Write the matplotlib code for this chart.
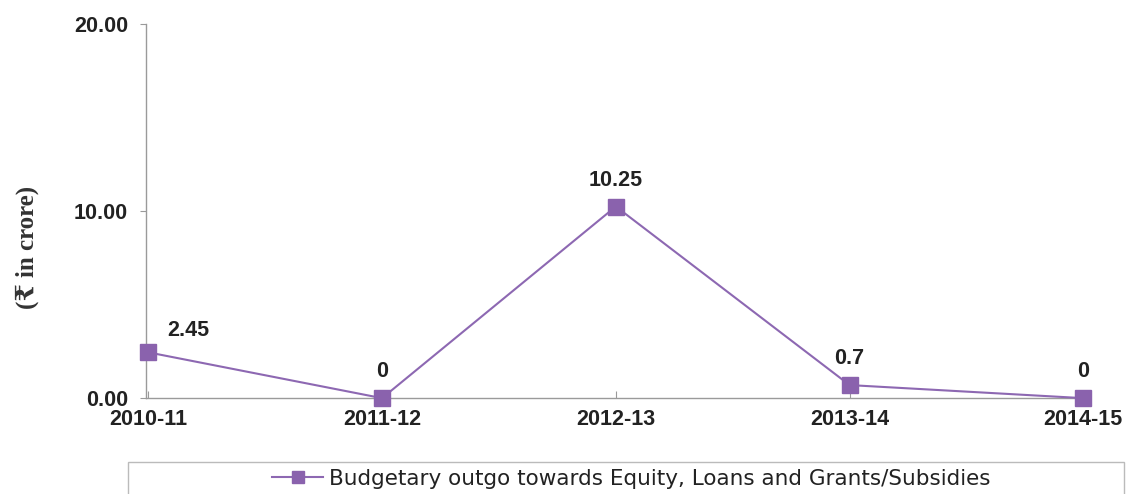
import matplotlib
matplotlib.use('Agg')
from matplotlib import pyplot as plt
from matplotlib.patches import Rectangle

# Budgetary outgo per year (Rs in crore)
anos = ['2010-11', '2011-12', '2012-13', '2013-14', '2014-15']
valores = [2.45, 0, 10.25, 0.7, 0]
rotulos = ['2.45', '0', '10.25', '0.7', '0']
yticks = [0, 10, 20]
legenda = 'Budgetary outgo towards Equity, Loans and Grants/Subsidies'

roxo = '#8d68b2'
cinza = '#9a9a9a'
texto = '#222222'
fonte = 'Liberation Sans'

fig = plt.figure(figsize=(11.28, 4.94), dpi=100)
ax = fig.add_axes([0.1294, 0.194, 0.831, 0.757])

x = list(range(len(anos)))
linha, = ax.plot(x, valores, color=roxo, linewidth=1.5, marker='s',
                 markersize=11, markerfacecolor='#8a62ad',
                 markeredgecolor='#8a62ad', clip_on=False, zorder=3)

# rotulos dos pontos; o primeiro fica a direita do marcador
for i, (v, r) in enumerate(zip(valores, rotulos)):
    if i == 0:
        ax.annotate(r, (i, v), xytext=(14, 16), textcoords='offset points',
                    ha='left', va='center', fontsize=15.5, fontweight='bold',
                    color=texto, family=fonte)
    else:
        ax.annotate(r, (i, v), xytext=(0, 19), textcoords='offset points',
                    ha='center', va='center', fontsize=15.5, fontweight='bold',
                    color=texto, family=fonte)

ax.set_xlim(-0.01, 4.0)
ax.set_ylim(0, 20)
ax.set_yticks(yticks)
ax.set_yticklabels(['%.2f' % t for t in yticks])
ax.set_xticks(x)
ax.set_xticklabels(anos)

for s in ['top', 'right']:
    ax.spines[s].set_visible(False)
for s in ['left', 'bottom']:
    ax.spines[s].set_color(cinza)
    ax.spines[s].set_linewidth(1.0)

ax.tick_params(axis='y', direction='out', length=4, color=cinza, pad=9,
               labelsize=15.5, labelcolor=texto)
ax.tick_params(axis='x', direction='in', length=5, color=cinza, pad=8,
               labelsize=15.5, labelcolor=texto)
for lab in ax.get_xticklabels() + ax.get_yticklabels():
    lab.set_fontweight('bold')
    lab.set_family(fonte)

fig.text(0.024, 0.5, '(\u20b9 in crore)', rotation=90, ha='center', va='center',
         fontsize=18, fontweight='bold', color='#333333',
         family=['Liberation Serif', 'DejaVu Serif'])

# caixa da legenda, cortada pela borda da figura
caixa = Rectangle((128 / 1128, -0.05), (1124 - 128) / 1128, 0.05 + (494 - 462) / 494,
                  transform=fig.transFigure, fill=False, edgecolor='#bbbbbb',
                  linewidth=1.0)
fig.patches.append(caixa)

leg = fig.legend([linha], [legenda], loc='center',
                 bbox_to_anchor=(631 / 1128, 1 - 479 / 494),
                 frameon=False, handlelength=2.4, handletextpad=0.25,
                 borderpad=0, borderaxespad=0,
                 prop={'family': 'DejaVu Sans', 'size': 15.5})
for t in leg.get_texts():
    t.set_color(texto)
leg.legend_handles[0].set_markersize(8)

fig.savefig('out.png', dpi=100)
